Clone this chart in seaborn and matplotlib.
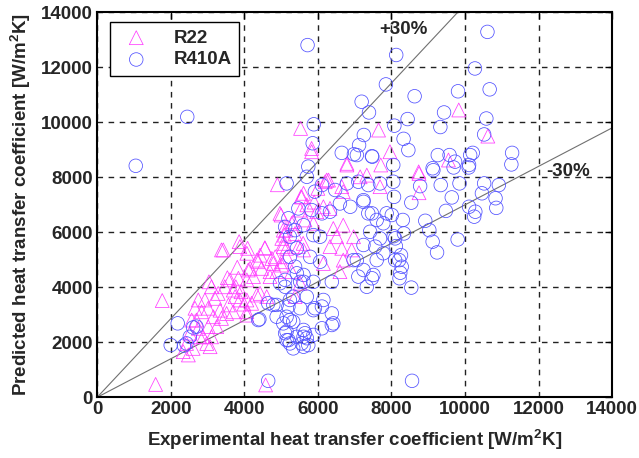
import matplotlib
matplotlib.use("Agg")
import matplotlib.pyplot as plt
import seaborn as sns
import pandas as pd
import numpy as np

# R22 data points: experimental vs predicted heat transfer coefficient [W/m2K]
r22_x = [1590, 4580, 1770,
         2340, 2480, 2430, 2520, 2750, 2700, 2880, 3020, 3070, 3160, 3340, 3020,
         2840, 2660, 2750, 2930, 3200, 3290, 3470, 3570, 3750, 3040, 3110, 3540,
         3810, 3610, 3770, 4070, 4160, 4380, 4470, 4430, 4750, 4880, 4700, 5020,
         5130, 5060, 4340, 3990, 4200, 4070, 3910, 4430, 3380, 3860, 4090, 4560,
         4560, 5000, 4900, 5090,
         2570, 2790, 2610, 2980, 3110, 3250, 3380, 3520, 3700, 3880,
         4970, 5290, 5020, 4840, 4340, 4070, 4110, 4250, 3880, 3430, 3840, 3700,
         4070, 4070, 4700, 4610,
         5060, 5060, 5150, 5470, 5610, 5010, 5290, 5520, 5380,
         5560, 6150, 6330, 5970, 5330, 5650, 5880, 6690, 6420, 6510, 6970, 6330,
         6650, 6920, 6690, 6600, 6150,
         5530, 5830, 7650, 7960, 7710, 6790, 8740, 9550, 9830, 10620, 6290, 7150,
         7330, 7690, 8750, 6650, 6690, 6200, 5610, 5830, 6790, 6240, 8750, 5540,
         5520, 5380, 5600, 5150, 4790, 5700, 5900, 6000]
r22_y = [470, 450, 3520,
         1660, 1540, 1960, 2330, 2510, 2810, 2200, 2570, 1840, 2930, 3170, 3240,
         3110, 3240, 3540, 3540, 3600, 3780, 4020, 3360, 3660, 4200, 4020, 4350,
         4730, 4270, 4020, 4270, 4690, 4930, 4690, 5170, 5050, 4570, 4570, 4930,
         6080, 5480, 3720, 3390, 3420, 3110, 3840, 3780, 5360, 5660, 5420, 5420,
         5440, 6630, 7730, 5900,
         2810, 2200, 1780, 1960, 2200, 2570, 2870, 3050, 3110, 3540,
         6690, 6330, 5780, 5110, 4990, 5240, 4630, 4390, 5480, 5360, 4330, 3900,
         3540, 2990, 4390, 3660,
         6080, 5600, 5110, 5480, 5360, 4810, 4570, 4150, 3660,
         7290, 6930, 6870, 6750, 6390, 6450, 6330, 6260, 6140, 5840, 5840, 5480,
         5420, 5360, 4990, 4570, 4870,
         9780, 9050, 9720, 8930, 8450, 8450, 8200, 8630, 10450, 9500, 7900, 8020,
         8080, 7660, 7440, 7660, 7480, 7840, 7420, 8930, 8510, 7900, 8140, 7290,
         6810, 5960, 5600, 5420, 4870, 7000, 7100, 7600]

# R410A data points
r410a_x = [1050, 2450, 5720, 8130, 10610, 4650, 8560,
           7850, 7190, 7390, 8630, 8440, 8080, 5890, 5860, 7250, 7120, 8330, 8460,
           6650, 6980, 7480, 5740, 8050, 10270, 10670, 9810, 9430, 10580, 9330,
           10520, 9260, 9580, 10210, 10140, 11280, 11260, 9730, 9120, 10110,
           9140, 9690, 10100, 8050, 8780, 9340, 9850, 10520, 10920, 10460, 9640,
           10830, 8070, 8540, 10850, 10110, 10280, 10250, 9480, 8010, 8310, 8920,
           9030, 8340, 8060, 9120, 9800, 8120, 9240, 8260, 8210, 8280, 8240, 8220,
           8540,
           7060, 7470, 5700, 5150, 5920, 6110, 6470, 6790, 7100, 7370, 7690, 7240,
           6880, 6600, 6330, 6110, 5830, 5470, 5200, 5110, 5380, 5610, 5880, 6060,
           7370, 7600, 7870, 7420, 7690, 7240, 7560, 7780, 8100, 7060, 7240, 7510,
           6380, 6060, 5790, 5430, 5240, 5240, 5380, 5610, 5520, 5880, 5110, 5330,
           5700, 5200, 5520, 5880, 6110, 6380, 6420, 6110, 5150, 5330, 5610, 5110,
           5200, 5330, 5610, 5740, 5560, 5880,
           4880, 5240, 5430, 5610, 5240, 4380, 4790, 5060, 4970, 5430, 5610, 5240,
           4410, 4880, 5150, 5150, 5110, 4650,
           2000, 2190, 2430, 2520, 2700, 2360, 2610,
           7600, 7330, 7470, 7100, 6970, 6150, 6380, 5920, 5650, 5700, 7240, 8100,
           7780, 7470]
r410a_y = [8420, 10200, 12810, 12450, 13290, 600, 600,
           11380, 10750, 10360, 10950, 10120, 9880, 9930, 9240, 9540, 9170, 9400, 8990,
           8890, 8840, 8750, 8390, 8450, 11960, 11200, 11130, 10360, 10140, 9830,
           9560, 8810, 8810, 8890, 8810, 8890, 8470, 8570, 8330, 8450,
           8260, 8360, 8360, 7840, 7680, 7720, 7780, 7780, 7720, 7420, 7270,
           7240, 7290, 7080, 6890, 6930, 6750, 6570, 6780, 6630, 6450, 6420,
           6080, 5960, 5860, 5660, 5740, 5500, 5270, 5170, 4990, 4750, 4530, 4330,
           3990,
           8810, 8770, 8020, 7780, 7480, 7720, 7540, 7780, 7840, 7720, 7780, 7170,
           6930, 7050, 6750, 6690, 6810, 6870, 6510, 6200, 6080, 6260, 5900, 5840,
           6690, 6450, 6690, 6020, 5780, 5540, 5480, 5240, 4990, 4990, 4630, 4450,
           4200, 4930, 5110, 5420, 5840, 5110, 4750, 4450, 4200, 4200, 4020, 3660,
           3660, 3300, 3240, 3170, 3300, 3050, 2690, 2510, 2930, 2750, 2450, 2330,
           2080, 1780, 2200, 1900, 1960, 2270,
           3360, 2810, 2200, 1840, 1960, 2810, 3360, 2690, 4150, 4510, 4200, 3540,
           2840, 2930, 2390, 2080, 4270, 3420,
           1900, 2690, 1960, 2200, 2570, 1880, 2540,
           4990, 4020, 4330, 4390, 4990, 3540, 2630, 3240, 2330, 2150, 7110, 5780,
           6330, 6690]

x_ticks = [0, 2000, 4000, 6000, 8000, 10000, 12000, 14000]
y_ticks = [0, 2000, 4000, 6000, 8000, 10000, 12000, 14000]
band_factor = 0.7

sns.set_theme(style="white")
plt.rcParams["font.family"] = ["Liberation Sans", "DejaVu Sans"]
plt.rcParams["font.weight"] = "bold"
plt.rcParams["mathtext.fontset"] = "custom"
plt.rcParams["mathtext.bf"] = "Liberation Sans:bold"
plt.rcParams["mathtext.rm"] = "Liberation Sans:bold"
plt.rcParams["xtick.direction"] = "in"
plt.rcParams["ytick.direction"] = "in"

df22 = pd.DataFrame({"exp": r22_x, "pred": r22_y})
df410 = pd.DataFrame({"exp": r410a_x, "pred": r410a_y})

fig = plt.figure(figsize=(6.39, 4.58), dpi=100)
ax = fig.add_axes([0.152, 0.1325, 0.806, 0.8405])

# +/-30% reference lines through the origin
xs = np.array([0, 14000])
ax.plot(xs, xs / band_factor, color="#707070", lw=0.8, zorder=1)
ax.plot(xs, xs * band_factor, color="#707070", lw=0.8, zorder=1)

sns.scatterplot(data=df22, x="exp", y="pred", marker="^", s=100,
                facecolor="none", edgecolor="#ff3cff", linewidth=0.55,
                label="R22", ax=ax, zorder=3)
sns.scatterplot(data=df410, x="exp", y="pred", marker="o", s=95,
                facecolor="none", edgecolor="#5050ff", linewidth=0.55,
                label="R410A", ax=ax, zorder=3)

ax.set_xlim(0, 14000)
ax.set_ylim(0, 14000)
ax.set_xticks(x_ticks)
ax.set_yticks(y_ticks)
ax.tick_params(labelsize=13.5, length=5, width=1, top=True, right=True,
               color="black", pad=3)
for lab in ax.get_xticklabels() + ax.get_yticklabels():
    lab.set_fontweight("bold")

ax.grid(True, color="#222222", linestyle=(0, (4, 4)), linewidth=1.0)
for sp in ax.spines.values():
    sp.set_color("black")
    sp.set_linewidth(1.5)

ax.set_xlabel(r"Experimental heat transfer coefficient [W/m$^{\mathbf{2}}$K]",
              fontsize=13.5, fontweight="bold", labelpad=6)
ax.set_ylabel(r"Predicted heat transfer coefficient [W/m$^{\mathbf{2}}$K]",
              fontsize=13.5, fontweight="bold", labelpad=6)

ax.text(8320, 13390, "+30%", fontsize=13.5, fontweight="bold",
        ha="center", va="center")
ax.text(12800, 8230, "-30%", fontsize=13.5, fontweight="bold",
        ha="center", va="center")

leg = ax.legend(loc="upper left", bbox_to_anchor=(0.025, 0.975),
                borderaxespad=0, fancybox=False, framealpha=1,
                edgecolor="black", fontsize=13.5, handletextpad=1.0,
                borderpad=0.4, labelspacing=0.25)
leg.get_frame().set_linewidth(1.0)
for t in leg.get_texts():
    t.set_fontweight("bold")

fig.savefig("out.png", dpi=100)
